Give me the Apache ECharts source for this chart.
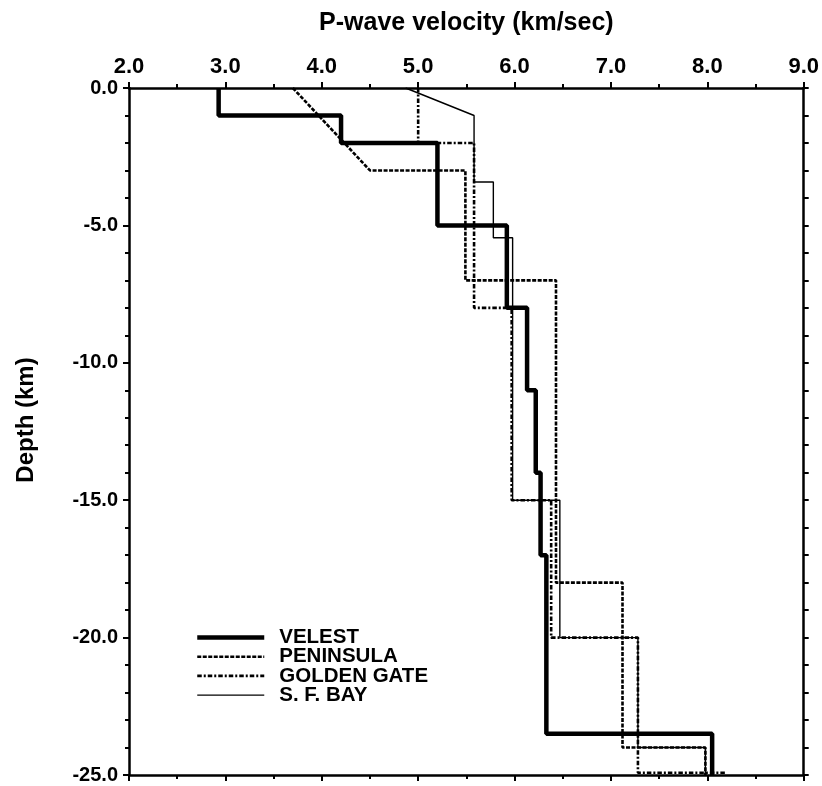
<!DOCTYPE html>
<html><head><meta charset="utf-8">
<script src="https://cdn.jsdelivr.net/npm/echarts@6/dist/echarts.min.js"></script>
<style>html,body{margin:0;padding:0;background:#fff}#c{width:822px;height:786px}</style>
</head><body><div id="c"></div>
<script>
// Legend / series names
const seriesNames = ['VELEST', 'PENINSULA', 'GOLDEN GATE', 'S. F. BAY'];

// Velocity model vertices (velocity km/s, depth km)
const velestVel   = [2.93, 2.93, 4.2, 4.2, 5.2, 5.2, 5.92, 5.92, 6.13, 6.13, 6.22, 6.22, 6.27, 6.27, 6.33, 6.33, 8.05, 8.05];
const velestDepth = [0, -1, -1, -2, -2, -5, -5, -8, -8, -11, -11, -14, -14, -17, -17, -23.5, -23.5, -25];

const peninsulaVel   = [3.7, 4.5, 5.49, 5.49, 6.43, 6.43, 7.12, 7.12, 7.98, 7.98];
const peninsulaDepth = [0, -3, -3, -7, -7, -18, -18, -24, -24, -25];

const goldenGateVel   = [5.0, 5.0, 5.58, 5.58, 5.97, 5.97, 6.38, 6.38, 7.28, 7.28, 8.19];
const goldenGateDepth = [0, -2, -2, -8, -8, -15, -15, -20, -20, -24.92, -24.92];

const sfBayVel   = [4.87, 5.58, 5.58, 5.78, 5.78, 5.98, 5.98, 6.47, 6.47, 7.28, 7.28, 7.98, 7.98];
const sfBayDepth = [0, -1, -3.42, -3.42, -5.45, -5.45, -15, -15, -20, -20, -24, -24, -25];

// Axis ranges
const velMin = 2, velMax = 9, velStep = 1;
const depthMin = -25, depthMax = 0, depthStep = 5;

const FONT = '"Liberation Sans", Arial, Helvetica, sans-serif';
function pairs(v, d) { return v.map((x, i) => [x, d[i]]); }

const lineAxis = { show: true, onZero: false, lineStyle: { color: '#000', width: 2.5 } };
const tickStyle = { color: '#000', width: 2 };

const chart = echarts.init(document.getElementById('c'), null, { renderer: 'canvas' });
const option = {
  animation: false,
  backgroundColor: '#fff',
  grid: { left: 129, right: 18, top: 88, bottom: 11 },
  xAxis: [
    {
      type: 'value', position: 'top', min: velMin, max: velMax, interval: velStep,
      name: 'P-wave velocity (km/sec)', nameLocation: 'middle', nameGap: 52,
      nameTextStyle: { fontFamily: FONT, fontWeight: 'bold', fontSize: 25, color: '#000' },
      axisLine: lineAxis,
      axisTick: { show: true, inside: false, length: 6, lineStyle: tickStyle },
      minorTick: { show: true, splitNumber: 2, length: 4, lineStyle: tickStyle },
      axisLabel: { show: true, margin: 10, fontFamily: FONT, fontWeight: 'bold', fontSize: 22, color: '#000',
                   formatter: v => v.toFixed(1) },
      splitLine: { show: false }
    },
    {
      type: 'value', position: 'bottom', min: velMin, max: velMax, interval: velStep,
      axisLine: lineAxis,
      axisTick: { show: true, inside: false, length: 6, lineStyle: tickStyle },
      minorTick: { show: true, splitNumber: 2, length: 4, lineStyle: tickStyle },
      axisLabel: { show: false },
      splitLine: { show: false }
    }
  ],
  yAxis: [
    {
      type: 'value', position: 'left', min: depthMin, max: depthMax, interval: depthStep,
      name: 'Depth (km)', nameLocation: 'middle', nameGap: 91, nameRotate: 90,
      nameTextStyle: { fontFamily: FONT, fontWeight: 'bold', fontSize: 24, color: '#000', padding: [0, 0, 0, 23] },
      axisLine: lineAxis,
      axisTick: { show: true, inside: false, length: 6, lineStyle: tickStyle },
      minorTick: { show: true, splitNumber: 5, length: 4, lineStyle: tickStyle },
      axisLabel: { show: true, margin: 11, fontFamily: FONT, fontWeight: 'bold', fontSize: 20, color: '#000',
                   formatter: v => v.toFixed(1) },
      splitLine: { show: false }
    },
    {
      type: 'value', position: 'right', min: depthMin, max: depthMax, interval: depthStep,
      axisLine: lineAxis,
      axisTick: { show: true, inside: false, length: 5, lineStyle: tickStyle },
      minorTick: { show: true, splitNumber: 5, length: 5, lineStyle: tickStyle },
      axisLabel: { show: false },
      splitLine: { show: false }
    }
  ],
  legend: {
    orient: 'vertical', left: 190, top: 622, itemWidth: 67, itemHeight: 14, itemGap: -1.8,
    selectedMode: false, data: seriesNames,
    itemStyle: { opacity: 0 },
    lineStyle: { width: 'inherit', type: 'inherit', color: '#000' },
    textStyle: { fontFamily: FONT, fontWeight: 'bold', fontSize: 20.5, color: '#000', lineHeight: 18.5, padding: [0, 0, 0, 10] }
  },
  series: [
    { name: seriesNames[1], type: 'line', symbol: 'none', z: 2, data: pairs(peninsulaVel, peninsulaDepth),
      itemStyle: { color: '#000' }, lineStyle: { color: '#000', width: 2.6, type: [4, 1.5] } },
    { name: seriesNames[2], type: 'line', symbol: 'none', z: 3, data: pairs(goldenGateVel, goldenGateDepth),
      itemStyle: { color: '#000' }, lineStyle: { color: '#000', width: 2.6, type: [4.5, 2, 2, 2] } },
    { name: seriesNames[3], type: 'line', symbol: 'none', z: 4, data: pairs(sfBayVel, sfBayDepth),
      itemStyle: { color: '#000' }, lineStyle: { color: '#000', width: 1.4, type: 'solid' } },
    { name: seriesNames[0], type: 'line', symbol: 'none', z: 5, data: pairs(velestVel, velestDepth),
      itemStyle: { color: '#000' }, lineStyle: { color: '#000', width: 4.5, type: 'solid' } }
  ]
};
chart.setOption(option);
</script>
</body></html>
